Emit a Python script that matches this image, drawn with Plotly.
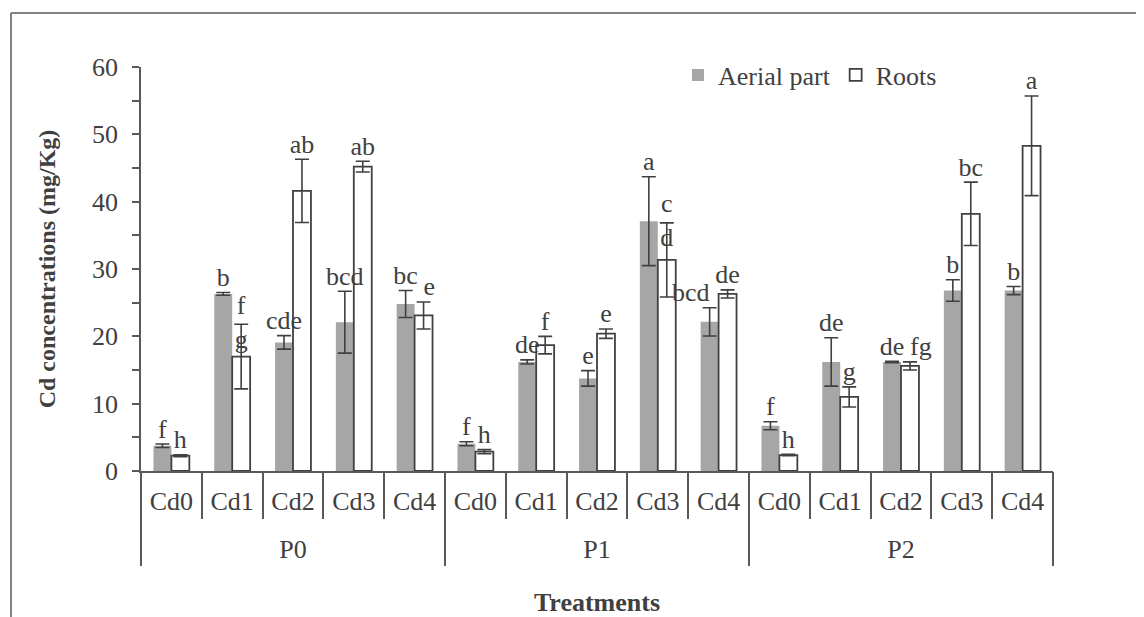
import plotly.graph_objects as go

# ---- data ----
groups = ["P0", "P1", "P2"]
levels = ["Cd0", "Cd1", "Cd2", "Cd3", "Cd4"]

aerial = [3.75, 26.3, 19.1, 22.1, 24.8, 4.05, 16.2, 13.75, 37.1, 22.15, 6.72, 16.2, 16.2, 26.8, 26.8]
aerial_err = [0.25, 0.2, 1.0, 4.6, 2.0, 0.3, 0.3, 1.15, 6.6, 2.1, 0.6, 3.6, 0.1, 1.6, 0.6]
roots = [2.27, 17.0, 41.6, 45.2, 23.1, 2.87, 18.7, 20.4, 31.35, 26.3, 2.37, 11.0, 15.6, 38.2, 48.3]
roots_err = [0.15, 4.8, 4.7, 0.8, 2.0, 0.3, 1.3, 0.7, 5.5, 0.6, 0.1, 1.5, 0.6, 4.7, 7.4]

aerial_letters = ["f", "b", "cde", "bcd", "bc", "f", "de", "e", "a", "bcd", "f", "de", "de", "b", "b"]
roots_letters = ["h", "f<br>g", "ab", "ab", "e", "h", "f", "e", "c<br>d", "de", "h", "g", "fg", "bc", "a"]

y_ticks = [0, 10, 20, 30, 40, 50, 60]

# ---- style ----
FONT = "Liberation Serif, Times New Roman, serif"
TXT = "#404040"
LINE = "#595959"
FS = 26
# label alignment tweaks (avoid crowding like the reference layout)
aerial_align = {9: "top left"}
roots_align = {12: "top right", 4: "top right"}

# positions along the x axis derived from the category lists
n_lev = len(levels)
n_cat = len(groups) * n_lev
xpos = list(range(n_cat))
inner = [l for _ in groups for l in levels]
group_centers = [g * n_lev + (n_lev - 1) / 2 for g in range(len(groups))]
group_bounds = [g * n_lev - 0.5 for g in range(len(groups) + 1)]
inner_bounds = [i - 0.5 for i in range(n_cat + 1) if i % n_lev != 0]
xrange_ = [-0.5, n_cat - 0.5]

fig = go.Figure()
fig.add_trace(go.Bar(
    name="Aerial part", x=xpos, y=aerial, offsetgroup="aerial",
    marker=dict(color="#a6a6a6", line=dict(width=0)),
    error_y=dict(type="data", array=aerial_err, color=TXT, thickness=1.6, width=7),
))
fig.add_trace(go.Bar(
    name="Roots", x=xpos, y=roots, offsetgroup="roots",
    marker=dict(color="white", line=dict(color=TXT, width=1.8)),
    error_y=dict(type="data", array=roots_err, color=TXT, thickness=1.6, width=7),
))

def label_pos(letters, overrides):
    out = []
    for i, t in enumerate(letters):
        if i in overrides:
            out.append(overrides[i])
        elif "<br>" in t:
            out.append("middle center")
        else:
            out.append("top center")
    return out

fig.add_trace(go.Scatter(
    x=xpos, y=[v + e for v, e in zip(aerial, aerial_err)], mode="text",
    text=aerial_letters, textposition=label_pos(aerial_letters, aerial_align), offsetgroup="aerial",
    textfont=dict(family=FONT, size=FS, color=TXT), showlegend=False, hoverinfo="skip",
))
fig.add_trace(go.Scatter(
    x=xpos, y=[v + e for v, e in zip(roots, roots_err)], mode="text",
    text=roots_letters, textposition=label_pos(roots_letters, roots_align), offsetgroup="roots",
    textfont=dict(family=FONT, size=FS, color=TXT), showlegend=False, hoverinfo="skip",
))
# empty traces so the overlay axes (group labels, separators) are drawn
for ax in ("x2", "x3"):
    fig.add_trace(go.Scatter(x=[], y=[], xaxis=ax, yaxis="y", showlegend=False, hoverinfo="skip"))

# page coordinates (browser body has an 8px margin)
W, H = 1136, 609
L, T = 133, 59
pw, ph = 912, 404
R, B = W - L - pw, H - T - ph
def px(xp): return (xp - 8 - L) / pw
def py(yp): return (T + ph + 8 - yp) / ph
frame = [
    dict(type="line", xref="paper", yref="paper", x0=px(11), x1=px(1144), y0=py(13), y1=py(13),
         line=dict(color=LINE, width=1.5)),
    dict(type="line", xref="paper", yref="paper", x0=px(11), x1=px(11), y0=py(13), y1=py(617),
         line=dict(color=LINE, width=1.5)),
]

tickfont = dict(family=FONT, size=FS, color=TXT)
fig.update_layout(
    width=W, height=H,
    margin=dict(l=L, r=R, t=T, b=B, autoexpand=False),
    paper_bgcolor="white", plot_bgcolor="white",
    font=dict(family=FONT, size=FS, color=TXT),
    barmode="group", bargap=0.41, bargroupgap=0,
    scattermode="group", scattergap=0.41,
    shapes=frame,
    legend=dict(orientation="h", x=px(942), xanchor="right", y=py(75), yanchor="middle",
                font=dict(family=FONT, size=FS, color=TXT), bgcolor="rgba(0,0,0,0)",
                itemwidth=30, tracegroupgap=0),
    xaxis=dict(
        range=xrange_, tickmode="array", tickvals=xpos, ticktext=inner, ticks="",
        showline=True, linecolor=LINE, linewidth=1.5, showgrid=False, zeroline=False,
        tickfont=tickfont, ticklabelstandoff=6, automargin=False,
    ),
    xaxis3=dict(
        overlaying="x", anchor="y", side="bottom", range=xrange_,
        tickmode="array", tickvals=group_bounds, ticks="outside", ticklen=94,
        tickcolor=LINE, tickwidth=1.5, showticklabels=False, showgrid=False, zeroline=False,
        minor=dict(tickmode="array", tickvals=inner_bounds, ticks="outside", ticklen=47,
                   tickcolor=LINE, tickwidth=1.5, showgrid=False),
        automargin=False,
    ),
    xaxis2=dict(
        overlaying="x", anchor="y", side="bottom", range=xrange_,
        tickmode="array", tickvals=group_centers, ticktext=groups, ticks="",
        showgrid=False, zeroline=False, tickfont=tickfont, ticklabelstandoff=60,
        title=dict(text="<b>Treatments</b>", font=dict(family=FONT, size=FS, color=TXT), standoff=29),
        automargin=False,
    ),
    yaxis=dict(
        range=[0, 60], tickvals=y_ticks, showline=True, linecolor=LINE, linewidth=1.5,
        ticks="outside", ticklen=7, tickcolor=LINE, tickwidth=1.5, showgrid=False, zeroline=False,
        minor=dict(dtick=5, ticks="outside", ticklen=7, tickcolor=LINE, tickwidth=1.5, showgrid=False),
        tickfont=tickfont, ticklabelstandoff=9, automargin=False,
        title=dict(text="<b>Cd concentrations (mg/Kg)</b>", font=dict(family=FONT, size=24, color=TXT),
                   standoff=30),
    ),
)

fig.write_html("out.html")
